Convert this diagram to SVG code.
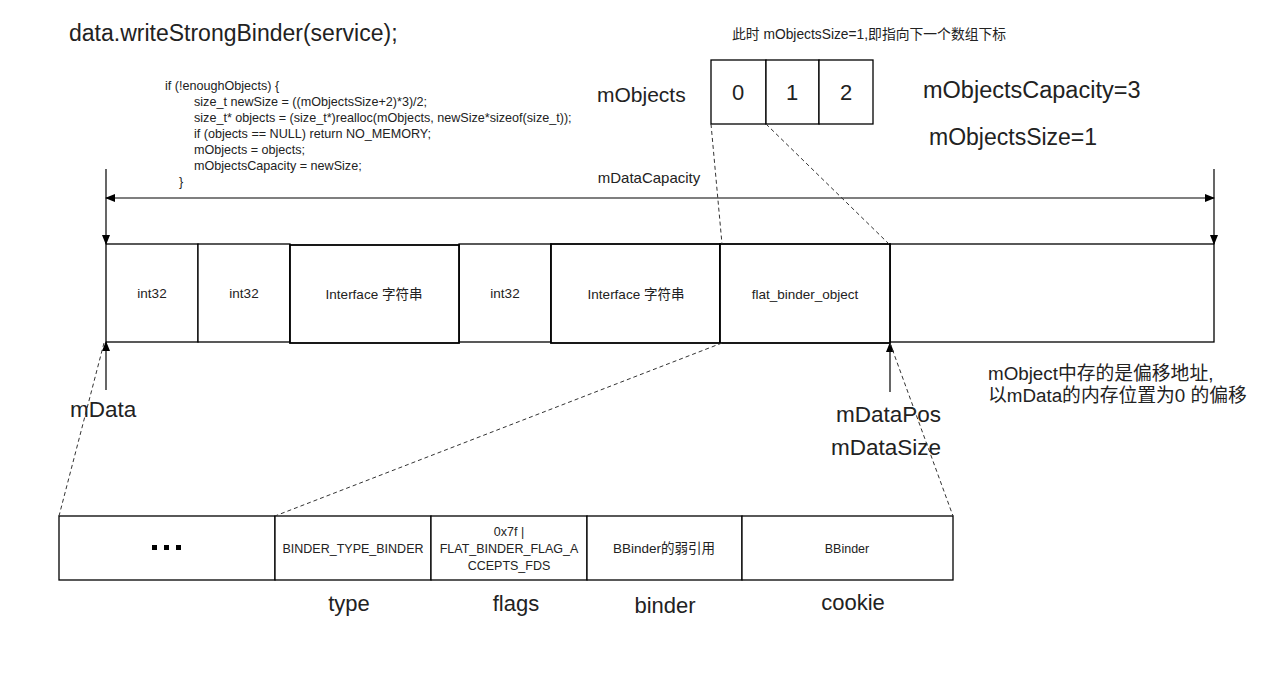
<svg xmlns="http://www.w3.org/2000/svg" width="1277" height="680" viewBox="0 0 1277 680">
<defs>
<marker id="ah" markerWidth="10" markerHeight="10" refX="9" refY="5" orient="auto-start-reverse" markerUnits="userSpaceOnUse">
<path d="M0,1 L10,5 L0,9 Z" fill="#000"/>
</marker>
<style>
text{font-family:"Liberation Sans","Noto Sans CJK SC",sans-serif;fill:#222}
.cell{fill:#fff;stroke:#000;stroke-width:1.3}
.thick{stroke-width:1.8}
.s{font-size:12.5px;text-anchor:middle}
.m{font-size:13.5px;text-anchor:middle}
.b{font-size:22px}
.bc{font-size:22px;text-anchor:middle}
.code{font-size:12.6px}
.line{stroke:#000;stroke-width:1.2;fill:none}
.dash{stroke:#333;stroke-width:1;stroke-dasharray:4 3;fill:none}
</style>
</defs>
<rect width="1277" height="680" fill="#fff"/>

<g id="title"><text x="69" y="41" style="font-size:23px">data.writeStrongBinder(service);</text></g>

<g id="code">
<text x="165" y="90" class="code">if (!enoughObjects) {</text>
<text x="194" y="106" class="code">size_t newSize = ((mObjectsSize+2)*3)/2;</text>
<text x="194" y="122" class="code">size_t* objects = (size_t*)realloc(mObjects, newSize*sizeof(size_t));</text>
<text x="194" y="138" class="code">if (objects == NULL) return NO_MEMORY;</text>
<text x="194" y="154" class="code">mObjects = objects;</text>
<text x="194" y="170" class="code">mObjectsCapacity = newSize;</text>
<text x="179" y="186" class="code">}</text>
</g>

<g id="note-top"><text x="732" y="39" style="font-size:13.8px">此时 mObjectsSize=1,即指向下一个数组下标</text></g>

<g id="mObjects-label"><text x="597" y="102" style="font-size:21px">mObjects</text></g>
<g id="mObjects-array">
<rect x="711" y="60" width="55" height="64" class="cell"/>
<rect x="766" y="60" width="53" height="64" class="cell"/>
<rect x="819" y="60" width="54" height="64" class="cell"/>
<text x="738" y="100" class="bc">0</text>
<text x="792" y="100" class="bc">1</text>
<text x="846" y="100" class="bc">2</text>
</g>
<g id="capacity"><text x="923" y="98" style="font-size:23.5px">mObjectsCapacity=3</text></g>
<g id="size"><text x="929" y="145" style="font-size:23px">mObjectsSize=1</text></g>

<g id="mDataCapacity"><text x="649" y="183" style="font-size:15px;text-anchor:middle">mDataCapacity</text></g>

<g id="data-row">
<rect x="106" y="244" width="92" height="98" class="cell"/>
<rect x="198" y="244" width="92" height="98" class="cell"/>
<rect x="459" y="244" width="92" height="98" class="cell"/>
<rect x="890" y="244" width="324" height="98" class="cell"/>
<rect x="290" y="245" width="169" height="98" class="cell thick"/>
<rect x="551" y="244" width="169" height="99" class="cell thick"/>
<rect x="720" y="244" width="170" height="99" class="cell thick"/>
<text x="152" y="298" class="m">int32</text>
<text x="244" y="298" class="m">int32</text>
<text x="374" y="299" class="m">Interface 字符串</text>
<text x="505" y="298" class="m">int32</text>
<text x="636" y="299" class="m">Interface 字符串</text>
<text x="805" y="299" class="m">flat_binder_object</text>
</g>

<g id="mData-label"><text x="70" y="417" style="font-size:22.5px">mData</text></g>
<g id="mDataPos-label"><text x="836" y="422" style="font-size:22.5px">mDataPos</text><text x="831" y="455" style="font-size:22.5px">mDataSize</text></g>
<g id="note-offset">
<text x="988" y="380" style="font-size:18.8px">mObject中存的是偏移地址,</text>
<text x="988" y="402" style="font-size:18.8px">以mData的内存位置为0 的偏移</text>
</g>

<g id="binder-row">
<rect x="59" y="516" width="216" height="64" class="cell"/>
<rect x="275" y="516" width="156" height="64" class="cell"/>
<rect x="431" y="516" width="156" height="64" class="cell"/>
<rect x="587" y="516" width="155" height="64" class="cell"/>
<rect x="742" y="516" width="211" height="64" class="cell"/>
<g fill="#000"><rect x="152" y="545" width="5" height="5"/><rect x="164" y="545" width="5" height="5"/><rect x="176" y="545" width="5" height="5"/></g>
<text x="353" y="553" class="s">BINDER_TYPE_BINDER</text>
<text x="509" y="536" class="s">0x7f |</text>
<text x="509" y="553" class="s">FLAT_BINDER_FLAG_A</text>
<text x="509" y="570" class="s">CCEPTS_FDS</text>
<text x="664" y="553" style="font-size:13.5px;text-anchor:middle">BBinder的弱引用</text>
<text x="847" y="553" class="s">BBinder</text>
</g>

<g id="field-labels">
<text x="349" y="611" class="bc">type</text>
<text x="516" y="611" class="bc">flags</text>
<text x="665" y="613" class="bc">binder</text>
<text x="853" y="610" class="bc">cookie</text>
</g>

<g id="connectors">
<line x1="106" y1="169" x2="106" y2="244" class="line" marker-end="url(#ah)"/>
<line x1="1214" y1="169" x2="1214" y2="244" class="line" marker-end="url(#ah)"/>
<line x1="106" y1="198" x2="1214" y2="198" class="line" marker-start="url(#ah)" marker-end="url(#ah)"/>
<line x1="106" y1="390" x2="106" y2="342" class="line" marker-end="url(#ah)"/>
<line x1="890" y1="392" x2="890" y2="343" class="line" marker-end="url(#ah)"/>
<line x1="711" y1="124" x2="722" y2="244" class="dash"/>
<line x1="766" y1="124" x2="889" y2="244" class="dash"/>
<line x1="722" y1="343" x2="275" y2="516" class="dash"/>
<line x1="890" y1="343" x2="953" y2="516" class="dash"/>
<line x1="104" y1="343" x2="59" y2="516" class="dash"/>
</g>
</svg>
